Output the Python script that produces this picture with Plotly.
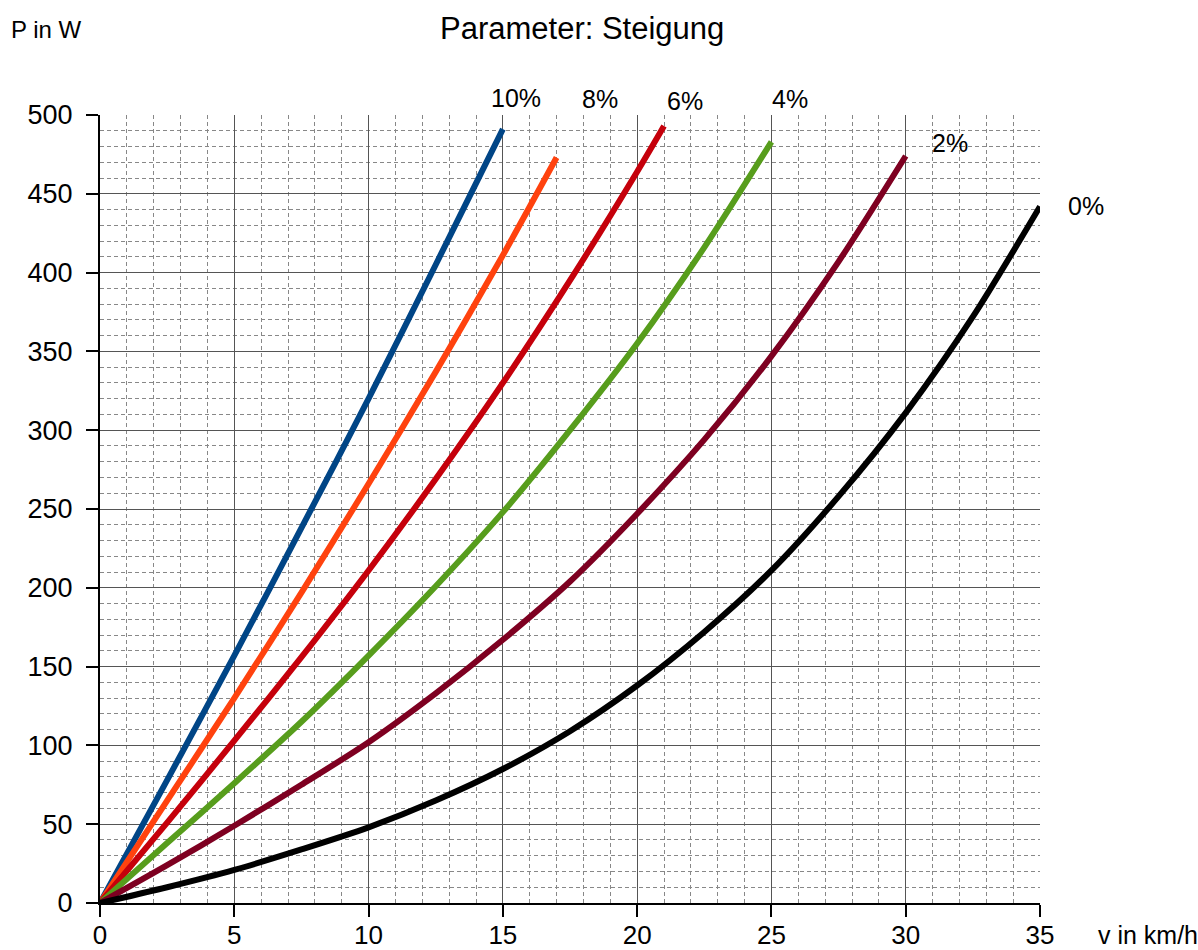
import plotly.graph_objects as go

# Speeds (km/h) sampled every 2.5 km/h, plus the end point of each curve
v_10 = [0, 2.5, 5, 7.5, 10, 12.5, 15]
p_10 = [0, 78, 157, 238, 320, 405, 491]

v_8 = [0, 2.5, 5, 7.5, 10, 12.5, 15, 17]
p_8 = [0, 65, 130, 197, 266, 337, 411, 473]

v_6 = [0, 2.5, 5, 7.5, 10, 12.5, 15, 17.5, 20, 21]
p_6 = [0, 51, 103, 156, 211, 269, 330, 395, 464, 493]

v_4 = [0, 2.5, 5, 7.5, 10, 12.5, 15, 17.5, 20, 22.5, 25]
p_4 = [0, 38, 76, 115, 157, 201, 248, 300, 355, 416, 483]

v_2 = [0, 2.5, 5, 7.5, 10, 12.5, 15, 17.5, 20, 22.5, 25, 27.5, 30]
p_2 = [0, 24, 49, 75, 102, 133, 167, 204, 247, 294, 347, 407, 474]

v_0 = [0, 2.5, 5, 7.5, 10, 12.5, 15, 17.5, 20, 22.5, 25, 27.5, 30, 32.5, 35]
p_0 = [0, 10, 21, 34, 48, 65, 85, 109, 138, 172, 211, 258, 311, 372, 442]

labels = ["10%", "8%", "6%", "4%", "2%", "0%"]
label_x = [15.5, 18.6, 21.8, 25.7, 31.65, 36.7]
label_y = [511, 510, 509, 510, 482, 442]

X_MAX = 35
Y_MAX = 500

series = [
    (v_10, p_10, "#004586"),
    (v_8, p_8, "#ff420e"),
    (v_6, p_6, "#c5000b"),
    (v_4, p_4, "#579d1c"),
    (v_2, p_2, "#7e0021"),
    (v_0, p_0, "#000000"),
]

FONT = "Liberation Sans, Arial, sans-serif"

fig = go.Figure()
for (vx, py, col), name in zip(series, labels):
    fig.add_trace(go.Scatter(
        x=vx, y=py, mode="lines", name=name,
        line=dict(color=col, width=6, shape="spline", smoothing=0.8),
        showlegend=False, cliponaxis=False,
    ))

# curve labels sit outside the axis range, so place them in paper units
for t, lx, ly in zip(labels, label_x, label_y):
    fig.add_annotation(x=lx / X_MAX, y=ly / Y_MAX, xref="paper", yref="paper",
                       text=t, showarrow=False,
                       font=dict(size=25, color="#000", family=FONT),
                       xanchor="center", yanchor="middle")

fig.add_annotation(x=0.5128, y=1.110, xref="paper", yref="paper",
                   text="Parameter: Steigung", showarrow=False,
                   font=dict(size=31, color="#000", family=FONT),
                   xanchor="center", yanchor="middle")
fig.add_annotation(x=-0.0564, y=1.108, xref="paper", yref="paper",
                   text="P in W", showarrow=False,
                   font=dict(size=24, color="#000", family=FONT),
                   xanchor="center", yanchor="middle")
fig.add_annotation(x=1.0596, y=-0.020, xref="paper", yref="paper",
                   text="v in km/h", showarrow=False,
                   font=dict(size=25, color="#000", family=FONT),
                   xanchor="left", yanchor="top")

fig.update_layout(
    width=1198, height=950,
    margin=dict(l=100, r=158, t=115, b=47),
    paper_bgcolor="white", plot_bgcolor="white",
    font=dict(family=FONT, color="#000"),
)

fig.update_xaxes(
    range=[0, X_MAX], tickmode="linear", tick0=0, dtick=5,
    showgrid=True, gridcolor="#555", gridwidth=1,
    minor=dict(dtick=1, showgrid=True, gridcolor="#888", griddash="4px,3px", gridwidth=1),
    showline=True, linecolor="#000", linewidth=2,
    ticks="outside", ticklen=12, tickcolor="#000", tickwidth=2,
    tickfont=dict(size=26, family=FONT, color="#000"),
    ticklabelstandoff=-4,
    automargin=False,
    zeroline=False,
)
fig.update_yaxes(
    range=[0, Y_MAX], tickmode="linear", tick0=0, dtick=50,
    showgrid=True, gridcolor="#555", gridwidth=1,
    minor=dict(dtick=10, showgrid=True, gridcolor="#888", griddash="4px,3px", gridwidth=1),
    showline=True, linecolor="#000", linewidth=2,
    ticks="outside", ticklen=12, tickcolor="#000", tickwidth=2,
    tickfont=dict(size=27, family=FONT, color="#000"),
    ticklabelstandoff=8,
    automargin=False,
    zeroline=False,
)

fig.write_html("out.html")
